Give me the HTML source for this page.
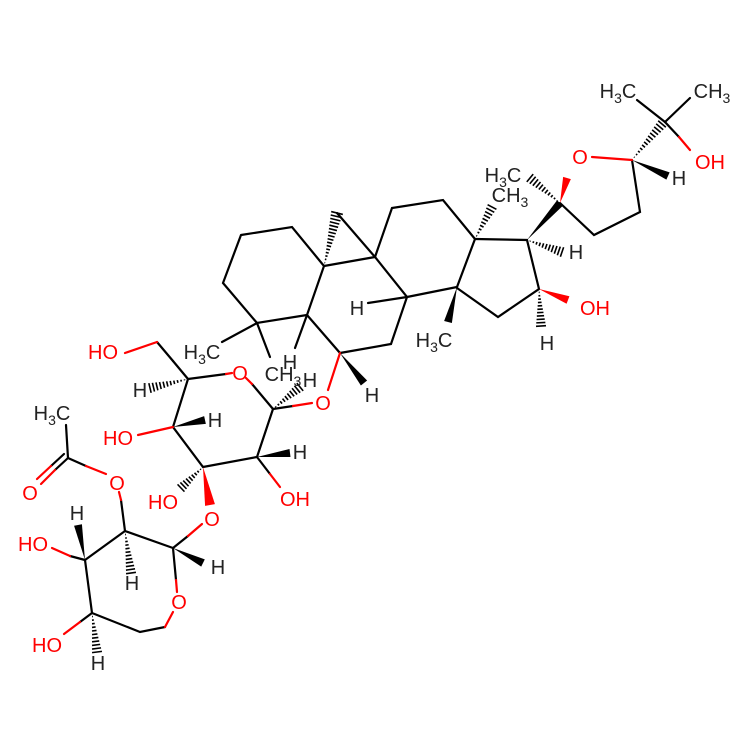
<!DOCTYPE html>
<html><head><meta charset="utf-8"><style>
html,body{margin:0;padding:0;background:#fff}
svg{display:block}
text{font-family:"Liberation Sans",sans-serif;font-size:20px;text-anchor:middle}
.r{fill:#f00}.k{fill:#222}
</style></head><body>
<svg id="s" width="750" height="750" viewBox="0 0 750 750" xmlns="http://www.w3.org/2000/svg">
<g stroke="#000" stroke-width="2.2" fill="none" stroke-linecap="round">
<polyline points="241,235 292,227 324,266 307,315 257,323 223,283 241,235"/>
<polyline points="324,266 375,257 407,297 391,344 340,353 307,315"/>
<line x1="375" y1="257" x2="337" y2="213"/>
<polyline points="375,257 392,208 443,200 475,239 457,287 407,297"/>
<polyline points="475,239 527,240 539,289 498,317 457,288"/>
<line x1="407" y1="297" x2="368" y2="303"/>
<line x1="257" y1="323" x2="222" y2="342"/>
<line x1="257" y1="323" x2="270" y2="357"/>
<line x1="307" y1="315" x2="295" y2="348"/>
<polyline points="632,160 640,212 594,235 560,203"/>
<line x1="665" y1="122" x2="637" y2="100"/>
<line x1="665" y1="122" x2="690" y2="98"/>
<line x1="665" y1="122" x2="679" y2="137"/>
<polyline points="157,342 173,361"/>
<line x1="173" y1="361" x2="188" y2="379"/>
<line x1="188" y1="379" x2="226" y2="374"/>
<line x1="252" y1="384" x2="273" y2="409"/>
<polyline points="188,379 173,427 203,467 257,457 273,409"/>
<line x1="273" y1="409" x2="293" y2="406"/>
<line x1="257" y1="457" x2="270" y2="474"/>
<polyline points="125,531 173,548 176,580"/>
<polyline points="165,627 140,632 92,613 85,560 125,531"/>
<line x1="173" y1="548" x2="188" y2="536"/>
<line x1="125" y1="531" x2="121" y2="500"/>
<line x1="92" y1="613" x2="80" y2="622"/>
<line x1="85" y1="560" x2="70" y2="556"/>
<line x1="68" y1="458" x2="66" y2="425"/>
<line x1="68" y1="458" x2="86" y2="466"/>
<line x1="68" y1="458" x2="55" y2="470"/>
<line x1="64" y1="454" x2="51" y2="466"/>
</g>
<g stroke="#f00" stroke-width="2.2" fill="none" stroke-linecap="round">
<line x1="86" y1="466" x2="106" y2="474"/>
<line x1="121" y1="500" x2="119" y2="492"/>
<line x1="55" y1="470" x2="41" y2="484"/>
<line x1="51" y1="466" x2="37" y2="479"/>
<line x1="125" y1="353" x2="157" y2="342"/>
<line x1="173" y1="427" x2="138" y2="435"/>
<line x1="226" y1="374" x2="232" y2="373"/>
<line x1="252" y1="384" x2="246" y2="378"/>
<line x1="293" y1="406" x2="312" y2="403"/>
<line x1="270" y1="474" x2="280" y2="487"/>
<line x1="188" y1="536" x2="202" y2="524"/>
<line x1="176" y1="580" x2="177" y2="592"/>
<line x1="165" y1="627" x2="173" y2="612"/>
<line x1="80" y1="622" x2="64" y2="634"/>
<line x1="70" y1="556" x2="52" y2="548"/>
<line x1="340" y1="353" x2="328" y2="390"/>
<line x1="632" y1="160" x2="592" y2="157"/>
<line x1="679" y1="137" x2="690" y2="150"/>
</g>
<g id="w"></g>
<g>
<text x="103" y="359" class="r">HO</text>
<text x="240" y="380" class="r">O</text>
<text x="202" y="359" class="k">H<tspan font-size="14" dy="5">3</tspan><tspan dy="-5">C</tspan></text>
<text x="290" y="369" class="k">H</text>
<text x="283" y="381" class="k">CH<tspan font-size="14" dy="5">3</tspan></text>
<text x="310" y="387" class="k">H</text>
<text x="323" y="410" class="r">O</text>
<text x="372" y="402" class="k">H</text>
<text x="357" y="315" class="k">H</text>
<text x="140" y="397" class="k">H</text>
<text x="118" y="445" class="r">HO</text>
<text x="215" y="427" class="k">H</text>
<text x="300" y="459" class="k">H</text>
<text x="295" y="506" class="r">OH</text>
<text x="163" y="509" class="r">HO</text>
<text x="212" y="526" class="r">O</text>
<text x="52" y="420" class="k">H<tspan font-size="14" dy="5">3</tspan><tspan dy="-5">C</tspan></text>
<text x="30" y="500" class="r">O</text>
<text x="117" y="490" class="r">O</text>
<text x="77" y="520" class="k">H</text>
<text x="33" y="551" class="r">HO</text>
<text x="132" y="590" class="k">H</text>
<text x="218" y="574" class="k">H</text>
<text x="179" y="609" class="r">O</text>
<text x="47" y="652" class="r">HO</text>
<text x="98" y="670" class="k">H</text>
<text x="434" y="347" class="k">H<tspan font-size="14" dy="5">3</tspan><tspan dy="-5">C</tspan></text>
<text x="510" y="202" class="k">CH<tspan font-size="14" dy="5">3</tspan></text>
<text x="503" y="182" class="k">H<tspan font-size="14" dy="5">3</tspan><tspan dy="-5">C</tspan></text>
<text x="576" y="259" class="k">H</text>
<text x="595" y="315" class="r">OH</text>
<text x="547" y="350" class="k">H</text>
<text x="580" y="164" class="r">O</text>
<text x="679" y="185" class="k">H</text>
<text x="710" y="169" class="r">OH</text>
<text x="618" y="98" class="k">H<tspan font-size="14" dy="5">3</tspan><tspan dy="-5">C</tspan></text>
<text x="712" y="98" class="k">CH<tspan font-size="14" dy="5">3</tspan></text>
</g>
<script>
var g=document.getElementById('w'),NS='http://www.w3.org/2000/svg';
function wedge(a,b,c,d,col,w){w=w||4;var dx=c-a,dy=d-b,L=Math.hypot(dx,dy),px=-dy/L*w,py=dx/L*w;
var p=document.createElementNS(NS,'polygon');p.setAttribute('points',a+','+b+' '+(c+px)+','+(d+py)+' '+(c-px)+','+(d-py));p.setAttribute('fill',col||'#000');g.appendChild(p);}
function hash(a,b,c,d,w){w=w||5;var dx=c-a,dy=d-b,L=Math.hypot(dx,dy),n=Math.max(4,Math.round(L/3.5));
for(var i=1;i<=n;i++){var t=i/n,x=a+dx*t,y=b+dy*t,h=w*t,px=-dy/L*h,py=dx/L*h;
var l=document.createElementNS(NS,'line');l.setAttribute('x1',x+px);l.setAttribute('y1',y+py);l.setAttribute('x2',x-px);l.setAttribute('y2',y-py);l.setAttribute('stroke','#000');l.setAttribute('stroke-width','1.6');g.appendChild(l);}}
hash(324,266,337,213,6);
hash(475,239,492,207);
wedge(457,287,448,322);
wedge(527,240,560,203);
hash(527,240,562,252);
hash(560,203,530,178);
wedge(560,203,567,178,'#f00');
wedge(632,160,668,176);
hash(632,160,662,124);
wedge(539,289,568,300,'#f00');
hash(539,289,541,326);
wedge(340,353,364,383);
hash(273,409,300,387);
hash(188,379,150,388);
wedge(173,427,205,420);
wedge(257,457,290,453);
hash(203,467,181,488);
wedge(203,467,210,505,'#f00',5);
wedge(173,548,203,563);
hash(125,531,131,573);
wedge(85,560,78,525);
hash(92,613,97,652);
</script>
</svg>
</body></html>
